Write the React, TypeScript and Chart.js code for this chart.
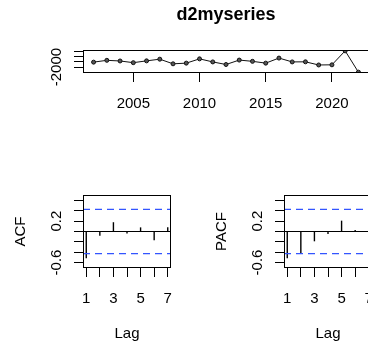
import React, { useEffect, useRef } from 'react';
import { Chart, registerables } from 'chart.js';

Chart.register(...registerables);

// ---------- data ----------
const years = [2002, 2003, 2004, 2005, 2006, 2007, 2008, 2009, 2010, 2011, 2012, 2013, 2014, 2015, 2016, 2017, 2018, 2019, 2020, 2021, 2022];
const d2Values = [-1060, -720, -840, -1160, -820, -500, -1380, -1250, -440, -1020, -1510, -670, -910, -1250, -290, -1020, -1000, -1600, -1570, 1080, -2960];
const yearTicks = [2005, 2010, 2015, 2020];
const yearTickLabels = ['2005', '2010', '2015', '2020'];
const seriesYTicks = [-2000, -1000, 0, 1000];
const seriesYTickLabels = ['-2000', '', '', ''];

const lags = [1, 2, 3, 4, 5, 6, 7];
const acfValues = [-0.52, -0.08, 0.18, -0.04, 0.08, -0.17, 0.08];
const pacfValues = [-0.52, -0.43, -0.19, -0.05, 0.21, 0.03, 0.02];
const lagTickLabels = ['1', '', '3', '', '5', '', '7'];
const corrTicks = [-0.6, -0.4, -0.2, 0, 0.2, 0.4, 0.6];
const corrTickLabels = ['-0.6', '', '', '', '0.2', '', ''];
const ciBound = 0.428;
const corrLimit = 0.655;

const mainTitle = 'd2myseries';

// ---------- helpers ----------
const FONT = '"Liberation Sans", Arial, Helvetica, sans-serif';
const TICK_LEN = 9;

function rRange(lo: number, hi: number): [number, number] {
  const d = (hi - lo) * 0.04;
  return [lo - d, hi + d];
}

type RefLine = { value: number; color: string; dash: number[]; width: number };
type PanelText = {
  title?: string;
  xTickLabels: string[];
  yTickLabels: string[];
  xTitle?: string;
  yTitle?: string;
  refLines?: RefLine[];
};

function rPanelPlugin(p: PanelText) {
  return {
    id: 'rPanel',
    afterDatasetsDraw(chart: any) {
      const { ctx, chartArea: a, scales } = chart;
      const xs = scales.x;
      const ys = scales.y;
      ctx.save();
      ctx.beginPath();
      ctx.rect(a.left, a.top, a.right - a.left, a.bottom - a.top);
      ctx.clip();
      (p.refLines || []).forEach((r) => {
        const y = ys.getPixelForValue(r.value);
        ctx.beginPath();
        ctx.setLineDash(r.dash);
        ctx.strokeStyle = r.color;
        ctx.lineWidth = r.width;
        ctx.moveTo(a.left, y);
        ctx.lineTo(a.right, y);
        ctx.stroke();
      });
      ctx.restore();

      ctx.save();
      ctx.setLineDash([]);
      ctx.strokeStyle = '#000';
      ctx.lineWidth = 1;
      ctx.strokeRect(a.left + 0.5, a.top + 0.5, a.right - a.left - 1, a.bottom - a.top - 1);

      ctx.fillStyle = '#000';
      ctx.font = `15px ${FONT}`;
      ctx.textAlign = 'center';
      ctx.textBaseline = 'alphabetic';
      xs.ticks.forEach((t: any, i: number) => {
        const lab = p.xTickLabels[i];
        if (lab) ctx.fillText(lab, xs.getPixelForValue(t.value), a.bottom + 35);
      });
      ys.ticks.forEach((t: any, i: number) => {
        const lab = p.yTickLabels[i];
        if (lab) {
          ctx.save();
          ctx.translate(a.left - 22, ys.getPixelForValue(t.value));
          ctx.rotate(-Math.PI / 2);
          ctx.fillText(lab, 0, 0);
          ctx.restore();
        }
      });
      if (p.xTitle) {
        ctx.fillText(p.xTitle, (a.left + a.right) / 2, a.bottom + 70);
      }
      if (p.yTitle) {
        ctx.save();
        ctx.translate(a.left - 58, (a.top + a.bottom) / 2);
        ctx.rotate(-Math.PI / 2);
        ctx.fillText(p.yTitle, 0, 0);
        ctx.restore();
      }
      if (p.title) {
        ctx.font = `bold 18px ${FONT}`;
        ctx.fillText(p.title, (a.left + a.right) / 2, 20);
      }
      ctx.restore();
    },
  };
}

function axis(min: number, max: number, tickValues: number[], horizontal: boolean) {
  return {
    type: 'linear' as const,
    min,
    max,
    offset: false,
    afterBuildTicks: (scale: any) => {
      scale.ticks = tickValues.map((v) => ({ value: v }));
    },
    afterFit: (scale: any) => {
      if (horizontal) scale.height = TICK_LEN;
      else scale.width = TICK_LEN;
    },
    ticks: { display: false },
    grid: {
      display: true,
      drawOnChartArea: false,
      drawTicks: true,
      tickLength: TICK_LEN,
      color: '#000',
      lineWidth: 1,
      offset: false,
    },
    border: { display: false },
  };
}

function SeriesPanel() {
  const ref = useRef<HTMLCanvasElement | null>(null);
  useEffect(() => {
    if (!ref.current) return;
    const [xMin, xMax] = rRange(Math.min(...years), Math.max(...years));
    const [yMin, yMax] = rRange(Math.min(...d2Values), Math.max(...d2Values));
    const chart = new Chart(ref.current, {
      type: 'line',
      data: {
        datasets: [
          {
            data: years.map((yr, i) => ({ x: yr, y: d2Values[i] })),
            borderColor: '#111',
            borderWidth: 1,
            pointRadius: 2,
            pointBackgroundColor: '#555',
            pointBorderColor: '#111',
            pointBorderWidth: 1,
            tension: 0,
            fill: false,
          },
        ],
      },
      options: {
        responsive: false,
        maintainAspectRatio: false,
        devicePixelRatio: 1,
        animation: false,
        events: [],
        layout: { padding: { left: 74, top: 50, right: 33, bottom: 33 } },
        plugins: { legend: { display: false }, tooltip: { enabled: false }, title: { display: false } },
        scales: {
          x: axis(xMin, xMax, yearTicks, true),
          y: axis(yMin, yMax, seriesYTicks, false),
        },
      },
      plugins: [
        rPanelPlugin({
          title: mainTitle,
          xTickLabels: yearTickLabels,
          yTickLabels: seriesYTickLabels,
        }),
      ],
    } as any);
    return () => chart.destroy();
  }, []);
  return (
    <canvas
      ref={ref}
      width={402}
      height={115}
      style={{ position: 'absolute', left: 0, top: 0, width: 402, height: 115 }}
    />
  );
}

function CorrPanel({ values, yTitle, left }: { values: number[]; yTitle: string; left: number }) {
  const ref = useRef<HTMLCanvasElement | null>(null);
  useEffect(() => {
    if (!ref.current) return;
    const [xMin, xMax] = rRange(lags[0], lags[lags.length - 1]);
    const [yMin, yMax] = rRange(-corrLimit, corrLimit);
    const chart = new Chart(ref.current, {
      type: 'bar',
      data: {
        datasets: [
          {
            data: lags.map((l, i) => ({ x: l, y: values[i] })),
            backgroundColor: '#000',
            borderWidth: 0,
            barThickness: 1.4,
            inflateAmount: 0,
          },
        ],
      },
      options: {
        responsive: false,
        maintainAspectRatio: false,
        devicePixelRatio: 1,
        animation: false,
        events: [],
        layout: { padding: { left: 74, top: 25, right: 30, bottom: 70 } },
        plugins: { legend: { display: false }, tooltip: { enabled: false }, title: { display: false } },
        scales: {
          x: axis(xMin, xMax, lags, true),
          y: axis(yMin, yMax, corrTicks, false),
        },
      },
      plugins: [
        rPanelPlugin({
          xTickLabels: lagTickLabels,
          yTickLabels: corrTickLabels,
          xTitle: 'Lag',
          yTitle,
          refLines: [
            { value: 0, color: '#000', dash: [], width: 1 },
            { value: ciBound, color: '#3355ff', dash: [7, 5], width: 1.4 },
            { value: -ciBound, color: '#3355ff', dash: [7, 5], width: 1.4 },
          ],
        }),
      ],
    } as any);
    return () => chart.destroy();
  }, [values, yTitle]);
  return (
    <canvas
      ref={ref}
      width={201}
      height={177}
      style={{ position: 'absolute', left, top: 170, width: 201, height: 177 }}
    />
  );
}

export default function App() {
  return (
    <div
      style={{
        position: 'fixed',
        left: 0,
        top: 0,
        width: 368,
        height: 347,
        overflow: 'hidden',
        background: '#fff',
      }}
    >
      <SeriesPanel />
      <CorrPanel values={acfValues} yTitle="ACF" left={0} />
      <CorrPanel values={pacfValues} yTitle="PACF" left={201} />
    </div>
  );
}
